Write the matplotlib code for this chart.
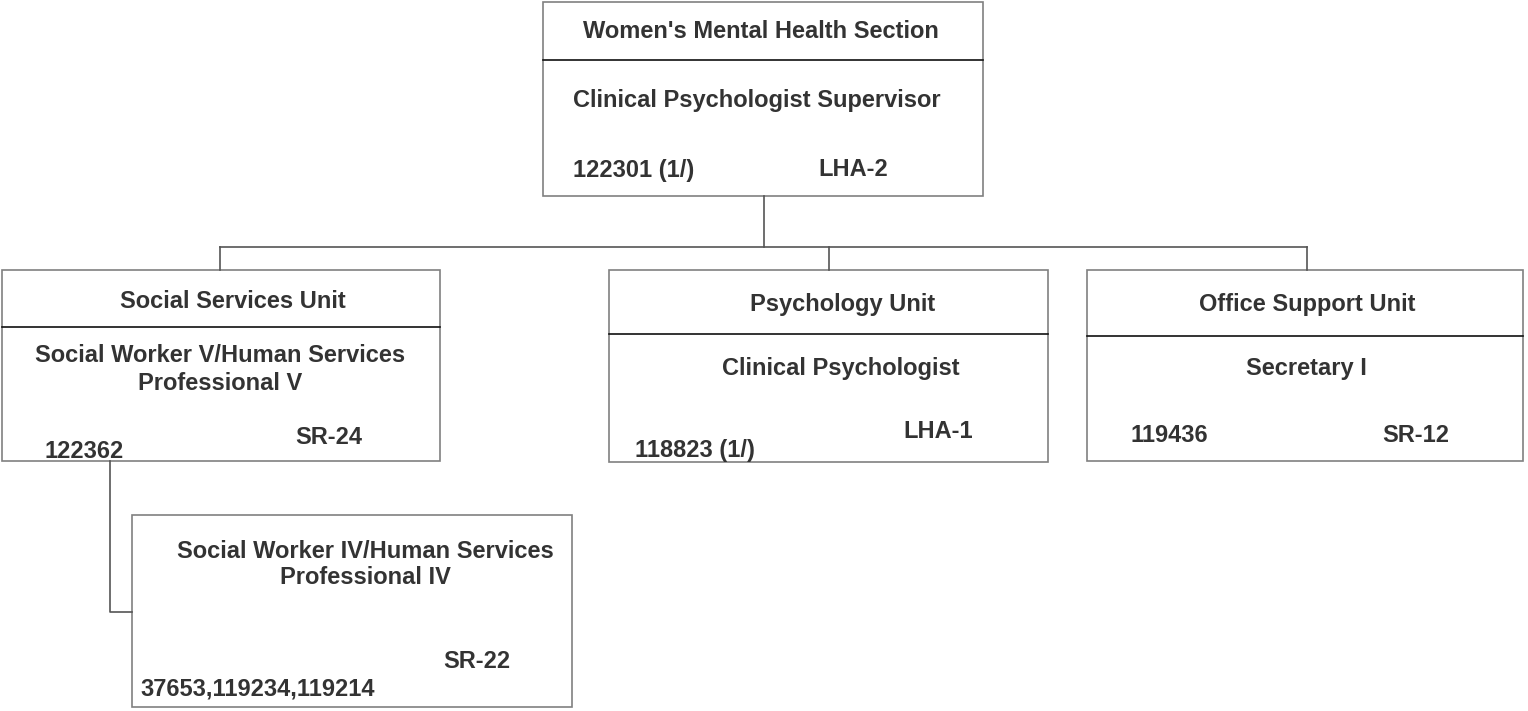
import matplotlib.pyplot as plt
from matplotlib.patches import Rectangle

plt.rcParams['font.family'] = ['Liberation Sans', 'DejaVu Sans']

# boxes: left, top, right, bottom, divider y (None = no header)
box_names = ['top', 'social', 'psych', 'office', 'sw4']
box_left = [543, 2, 609, 1087, 132]
box_top = [2, 270, 270, 270, 515]
box_right = [983, 440, 1048, 1523, 572]
box_bottom = [196, 461, 462, 461, 707]
box_divider = [60, 327, 334, 336, None]

# text entries: text, x, y, alignment
texts = [
    ("Women's Mental Health Section", 761, 32, 'center'),
    ("Clinical Psychologist Supervisor", 573, 101, 'left'),
    ("122301 (1/)", 573, 170, 'left'),
    ("LHA-2", 818, 170, 'left'),
    ("Social Services Unit", 233, 302, 'center'),
    ("Social Worker V/Human Services", 220, 356, 'center'),
    ("Professional V", 220, 383, 'center'),
    ("122362", 44, 451, 'left'),
    ("SR-24", 295, 437, 'left'),
    ("Psychology Unit", 843, 304, 'center'),
    ("Clinical Psychologist", 841, 368, 'center'),
    ("118823 (1/)", 635, 450, 'left'),
    ("LHA-1", 903, 432, 'left'),
    ("Office Support Unit", 1307, 304, 'center'),
    ("Secretary I", 1306, 368, 'center'),
    ("119436", 1130, 436, 'left'),
    ("SR-12", 1382, 436, 'left'),
    ("Social Worker IV/Human Services", 365, 551, 'center'),
    ("Professional IV", 365, 578, 'center'),
    ("SR-22", 443, 661, 'left'),
    ("37653,119234,119214", 140, 689, 'left'),
]

# connector polylines
connectors = [
    ([764, 764], [196, 247]),
    ([220, 1307], [247, 247]),
    ([220, 220], [247, 270]),
    ([829, 829], [247, 270]),
    ([1307, 1307], [247, 270]),
    ([110, 110, 132], [461, 612, 612]),
]

fig = plt.figure(figsize=(15.28, 7.11), dpi=100)
ax = fig.add_axes([0, 0, 1, 1])
ax.set_xlim(0, 1528)
ax.set_ylim(711, 0)
ax.axis('off')

for l, t, r, b, d in zip(box_left, box_top, box_right, box_bottom, box_divider):
    ax.add_patch(Rectangle((l, t), r - l, b - t, fill=False, edgecolor='#808080', linewidth=1.2))
    if d is not None:
        ax.plot([l, r], [d, d], color='#111111', linewidth=1.2)

for xs, ys in connectors:
    ax.plot(xs, ys, color='#555555', linewidth=1.2)

for s, x, y, ha in texts:
    ax.text(x, y, s, ha=ha, va='center', fontsize=17, fontweight='bold', color='#333333')

plt.savefig('out.png', dpi=100)
